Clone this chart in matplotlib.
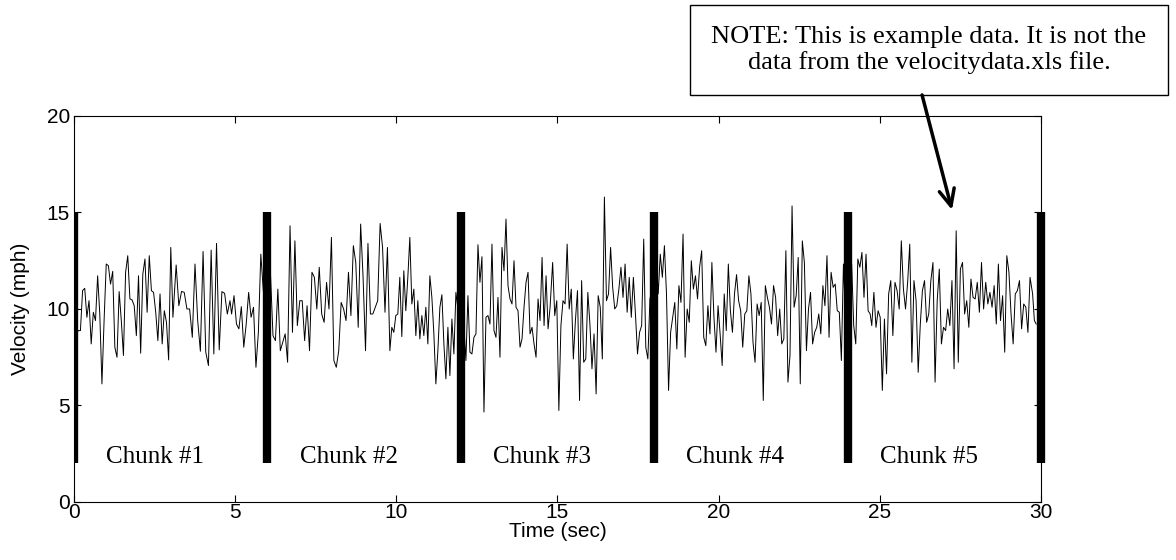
import matplotlib
matplotlib.use('Agg')
import matplotlib.pyplot as plt
import numpy as np
from matplotlib.patches import Rectangle

# velocity samples, in pieces (first/last sample time, values)
vel_a = [7.84, 8.71, 8.88, 8.88, 10.95, 11.07, 9.57, 10.43, 8.19, 9.83, 9.40, 11.72,
         9.74, 6.12, 9.40, 12.33, 12.24, 11.29, 11.95, 8.02, 7.50, 10.90, 9.40, 7.59,
         11.90, 12.76, 10.52, 10.47, 10.17, 8.62, 11.72, 7.71, 11.81, 12.59, 9.83, 12.76,
         10.95, 10.86, 9.83, 8.36, 10.78, 8.19, 9.91, 9.31, 7.36, 13.19, 9.57]
vel_b = [12.28, 10.17, 10.91, 10.86, 10.0, 10.0, 8.53, 12.33, 9.40, 7.81, 12.98, 7.76,
         7.07, 13.05, 7.67, 13.40, 7.88, 10.90, 10.81, 9.74, 10.43]
vel_c = [9.74, 10.69, 9.22, 8.97, 10.12, 8.02, 9.22, 10.86, 9.57, 10.09, 6.98, 8.79,
         12.84, 11.0, 9.5, 8.88, 11.72, 8.62, 8.36, 11.03, 7.84, 8.28, 8.71, 7.24,
         14.31, 8.79, 13.53, 9.14, 10.43, 10.43, 8.36, 10.17, 7.84, 11.90, 11.64, 10.0,
         12.16, 9.74, 9.31, 11.38, 10.0, 13.71, 7.33, 6.98, 7.84, 10.34, 10.0, 9.40,
         11.90, 9.66, 13.28, 12.41, 9.05, 14.40, 11.64, 7.84, 13.40, 9.74, 9.74, 10.09,
         10.43, 14.43, 13.19, 9.83, 13.19, 7.84]
vel_d = [9.05, 8.79, 9.66, 9.74, 11.64, 8.57, 11.98, 9.91, 11.64, 13.71, 10.26, 11.03,
         8.62, 10.43, 8.45, 9.66, 8.62, 10.09, 8.19, 11.72, 10.60, 8.71, 6.12, 7.84,
         10.09, 10.74, 8.19, 6.38, 9.05, 6.55, 9.48, 7.67, 10.86, 10.0, 8.5, 10.09,
         9.05, 7.33, 10.69, 7.76, 7.67, 8.53, 8.71, 13.33, 11.38, 12.71, 4.66, 9.57,
         9.66, 9.22, 13.36, 8.88, 8.53, 10.60, 7.50, 13.19, 11.98, 14.66, 11.21, 10.52,
         10.26, 12.50, 10.09, 9.91, 8.02, 8.45, 10.09, 11.38, 11.90, 8.71, 9.05, 8.19,
         7.50, 10.52, 9.40, 12.67, 9.14, 11.72, 8.97, 10.09]
vel_e = [12.41, 9.66, 10.43, 4.74, 9.14, 10.43, 10.26, 13.36, 10.0, 11.03, 7.41, 9.40,
         10.95, 5.26, 11.47, 7.24, 7.41, 10.86, 9.22, 6.90, 8.71, 5.60, 10.69, 10.09,
         7.41, 15.8, 10.43, 10.78, 13.19, 11.12, 10.0, 10.17, 11.03, 12.16, 10.60, 12.33,
         9.83, 11.64, 9.57, 11.64, 9.74, 7.67, 8.79, 9.14, 13.62, 8.02, 7.41, 10.52,
         11.0, 12.0, 12.67, 10.78, 12.84, 11.64, 13.28, 10.78, 5.78, 8.79, 9.57, 10.34,
         7.93, 11.21, 10.34, 13.88, 7.50, 10.0, 9.31, 12.50, 11.03, 11.72, 10.52, 12.16,
         13.02, 8.53, 8.10, 10.17, 8.71]
vel_f = [12.41, 9.57, 7.76, 10.17, 8.71, 7.07, 10.78, 8.88, 12.33, 9.91, 8.79, 10.78,
         11.78, 10.43, 9.91, 8.02, 9.74, 9.91, 11.72, 10.78, 8.28, 7.24, 10.26, 9.66,
         10.34, 5.26, 11.21, 10.60, 10.09, 9.22, 11.21, 10.60, 8.62, 10.0, 8.19, 8.45,
         13.02, 6.21, 7.59, 15.34, 10.09, 10.69, 12.67, 6.12, 13.53, 12.41, 7.84, 10.0,
         10.86, 8.19, 8.79, 9.05, 9.74, 8.71, 11.21, 10.17, 12.76, 8.53, 11.90, 11.12,
         11.29, 9.91, 9.83, 7.33, 12.33, 9.66, 10.5, 12.0, 12.33, 9.14, 8.19, 12.59,
         12.16, 12.93, 10.60, 12.84, 9.91, 9.74]
vel_g = [9.14, 10.86, 9.05, 9.91, 9.57, 5.78, 9.48, 6.64, 10.78, 11.47, 8.62, 11.38,
         10.95, 10.0, 13.53, 11.03, 10.0, 11.38, 13.36, 7.24, 11.47, 10.43, 6.72, 9.22,
         10.95, 11.47, 9.31, 9.74, 11.47, 12.41, 6.21, 10.43, 12.07, 8.19, 9.05, 8.88,
         10.0, 9.14, 11.47, 6.90, 14.05, 7.24, 12.07, 12.41, 9.74, 10.43, 9.05, 11.55,
         10.60, 10.52, 11.38, 9.83, 12.41, 10.0, 11.38, 10.26, 10.86, 10.09, 11.21, 9.22,
         12.33, 9.40, 10.69, 7.76, 12.76, 11.90, 9.74, 8.19, 10.78, 10.95, 11.47, 8.97,
         10.26, 10.09, 8.79, 11.64]
vel_h = [10.78, 9.40, 9.22]

segments = [(0.00, 3.07, vel_a), (3.17, 4.84, vel_b), (4.89, 9.80, vel_c),
            (9.86, 14.77, vel_d), (14.85, 19.73, vel_e), (19.79, 24.70, vel_f),
            (24.75, 29.66, vel_g), (29.74, 29.85, vel_h)]

chunk_edges = [0, 6, 12, 18, 24, 30]
chunk_names = ['Chunk #1', 'Chunk #2', 'Chunk #3', 'Chunk #4', 'Chunk #5']

note = 'NOTE: This is example data. It is not the\ndata from the velocitydata.xls file.'

time = np.concatenate([np.linspace(t0, t1, len(v)) for t0, t1, v in segments])
vel = np.concatenate([v for _, _, v in segments])

sans = 'Liberation Sans'
serif = 'Liberation Serif'

fig = plt.figure(figsize=(11.76, 5.6), dpi=100)
ax = fig.add_axes([0.0629, 0.1036, 0.8223, 0.6893])

ax.plot(time, vel, color='black', lw=0.7)

for xb in chunk_edges:
    ax.plot([xb, xb], [2, 15], color='black', lw=6, solid_capstyle='butt',
            clip_on=(xb == 0))

for xb, name in zip(chunk_edges[:-1], chunk_names):
    ax.text(xb + 1, 2.0, name, family=serif, fontsize=18, va='baseline', ha='left')

ax.set_xlim(0, 30)
ax.set_ylim(0, 20)
ax.set_xticks(np.arange(0, 31, 5))
ax.set_yticks(np.arange(0, 21, 5))
ax.tick_params(direction='in', top=True, right=True, length=5, width=0.8,
               labelsize=15, pad=3)
ax.tick_params(axis='x', pad=1)
for lab in ax.get_xticklabels() + ax.get_yticklabels():
    lab.set_family(sans)
for sp in ax.spines.values():
    sp.set_linewidth(0.8)

ax.set_xlabel('Time (sec)', family=sans, fontsize=15, labelpad=0)
ax.set_ylabel('Velocity (mph)', family=sans, fontsize=15, labelpad=12)

# note box with arrow pointing at the trace
fig.add_artist(Rectangle((0.5867, 0.8304), 0.4065, 0.1607, transform=fig.transFigure,
                         fill=False, lw=1.0, ec='black'))
fig.text(0.790, 0.911, note, ha='center', va='center', family=serif, fontsize=19,
         linespacing=1.2)
ax.annotate('', xy=(27.24, 15.13), xytext=(26.31, 21.09), annotation_clip=False,
            arrowprops=dict(arrowstyle='->,head_length=1.2,head_width=0.55', lw=2.5,
                            color='black', shrinkA=0, shrinkB=0))

fig.savefig('out.png', dpi=100)
